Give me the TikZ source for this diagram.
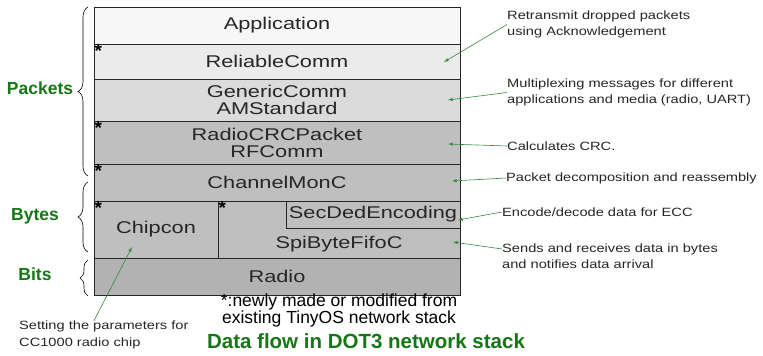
\documentclass[tikz,border=0pt]{standalone}
\usepackage{fontspec}
\setmainfont{Liberation Sans}
\newfontfamily\widefont[FakeStretch=1.28]{Liberation Sans}
\newfontfamily\notefont[FakeStretch=1.22]{Liberation Sans}
\usetikzlibrary{decorations.pathreplacing}
\definecolor{dotgreen}{RGB}{22,118,22}
\definecolor{arrowgreen}{RGB}{50,140,60}

\begin{document}
\begin{tikzpicture}[x=1pt, y=-1pt, layer/.style={draw=black!85, line width=1pt, rectangle, inner sep=0pt, minimum width=366pt, align=center, text=black!85, font=\widefont\fontsize{17}{17}\selectfont}, starsym/.style={inner sep=1pt, anchor=north west, font=\bfseries\fontsize{19}{19}\selectfont}, note/.style={anchor=west, align=left, inner sep=0pt, text=black!85, font=\notefont\fontsize{12}{16.5}\selectfont}, lbl/.style={text=dotgreen, font=\bfseries\fontsize{17.5}{17.5}\selectfont}, n/.style={-latex, arrowgreen, line width=0.6pt}, br/.style={decorate, decoration={brace, amplitude=10pt}, line width=0.6pt}]
            \useasboundingbox (0,0) rectangle (763,356);
            % nodes
            \node[layer, fill=black!3, minimum height=37pt] (app) at (277,25.5) {Application};
            \node[layer, fill=black!8, minimum height=35pt] (rel) at (277,61.5) {ReliableComm};
            \node[layer, fill=black!14, minimum height=42pt] (gen) at (277,100) {GenericComm\\AMStandard};
            \node[layer, fill=black!25, minimum height=43pt] (crc) at (277,142.5) {RadioCRCPacket\\RFComm};
            \node[layer, fill=black!25, minimum height=37pt] (chm) at (277,182.5) {ChannelMonC};
            \node[layer, fill=black!25, minimum width=124pt, minimum height=57pt] (chip) at (156,229.5) {Chipcon};
            \node[layer, fill=black!25, minimum width=242pt, minimum height=57pt] (spi) at (339,229.5) {};
            \node[layer, fill=black!25, minimum width=174pt, minimum height=27pt] (sec) at (373,214.5) {SecDedEncoding};
            \node[inner sep=0pt, text=black!85, font=\widefont\fontsize{17}{17}\selectfont] (spitext) at (339,244) {SpiByteFifoC};
            \node[layer, fill=black!30, minimum height=37pt] (radio) at (277,276.5) {Radio};

            \node[starsym] (s1) at (rel.north west) {*};
            \node[starsym] (s2) at (crc.north west) {*};
            \node[starsym] (s3) at (chm.north west) {*};
            \node[starsym] (s4) at (chip.north west) {*};
            \node[starsym] (s5) at (spi.north west) {*};

            \node[lbl] (packets) at (40,88) {Packets};
            \node[lbl] (bytes) at (35,216) {Bytes};
            \node[lbl] (bits) at (35,274) {Bits};

            \node[note] (n1) at (507,24.5) {Retransmit dropped packets\\using Acknowledgement};
            \node[note] (n2) at (507,92.5) {Multiplexing messages for different\\applications and media (radio, UART)};
            \node[note] (n3) at (507,146) {Calculates CRC.};
            \node[note] (n4) at (506,178) {Packet decomposition and reassembly};
            \node[note] (n5) at (502,212) {Encode/decode data for ECC};
            \node[note] (n6) at (502,256) {Sends and receives data in bytes\\and notifies data arrival};
            \node[note] (n7) at (19,335) {Setting the parameters for\\CC1000 radio chip};

            \node[align=center, inner sep=0pt, font=\fontsize{17.5}{15.5}\selectfont] (foot) at (339,310.5) {*:newly made or modified from\\existing TinyOS network stack};
            \node[text=dotgreen, font=\bfseries\fontsize{20.5}{20.5}\selectfont] (title) at (366,341) {Data flow in DOT3 network stack};

            \coordinate (t1) at (444,62);
            \coordinate (t2) at (448,100);
            \coordinate (t3) at (448,144);
            \coordinate (t4) at (452,181);
            \coordinate (t5) at (458,220);
            \coordinate (t6) at (453,242);
            \coordinate (t7) at (132,247);

            \coordinate (pk1) at (88,176);
            \coordinate (pk2) at (88,7);
            \coordinate (by1) at (88,252);
            \coordinate (by2) at (88,182);
            \coordinate (bi1) at (88,296);
            \coordinate (bi2) at (88,260);
            % edges
            \draw [br] (pk1) -- (pk2);
            \draw [br] (by1) -- (by2);
            \draw [br, decoration={amplitude=8pt}] (bi1) -- (bi2);

            \draw [n] (n1.west) -- (t1);
            \draw [n] (n2.west) -- (t2);
            \draw [n] (n3.west) -- (t3);
            \draw [n] (n4.west) -- (t4);
            \draw [n] (n5.west) -- (t5);
            \draw [n] ([yshift=7pt]n6.west) -- (t6);
            \draw [n] ([xshift=-10pt]n7.north) -- (t7);
        \end{tikzpicture}
\end{document}
